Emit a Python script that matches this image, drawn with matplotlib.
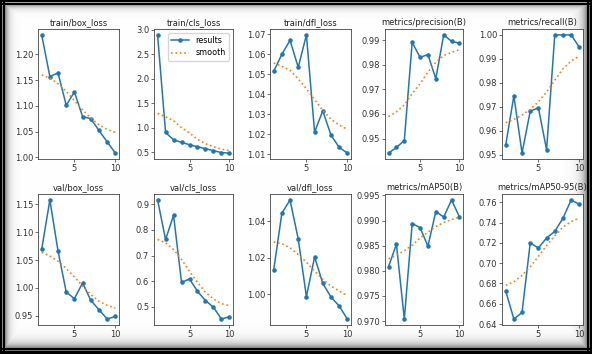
import numpy as np
import matplotlib
matplotlib.use("Agg")
import matplotlib.pyplot as plt

epochs = [1, 2, 3, 4, 5, 6, 7, 8, 9, 10]
xticks = [5, 10]
val_dfl_yticks = [1.00, 1.02, 1.04]

titles = ["train/box_loss", "train/cls_loss", "train/dfl_loss", "metrics/precision(B)", "metrics/recall(B)",
          "val/box_loss", "val/cls_loss", "val/dfl_loss", "metrics/mAP50(B)", "metrics/mAP50-95(B)"]

train_box = [1.238, 1.157, 1.164, 1.101, 1.127, 1.079, 1.075, 1.052, 1.030, 1.008]
train_box_s = [1.160, 1.154, 1.143, 1.128, 1.110, 1.092, 1.076, 1.063, 1.054, 1.048]
train_cls = [2.89, 0.90, 0.75, 0.70, 0.65, 0.61, 0.57, 0.53, 0.49, 0.48]
train_cls_s = [1.29, 1.22, 1.14, 1.00, 0.89, 0.76, 0.67, 0.61, 0.56, 0.53]
train_dfl = [1.0515, 1.0600, 1.0670, 1.0535, 1.0697, 1.0212, 1.0318, 1.0197, 1.0136, 1.0107]
train_dfl_s = [1.0557, 1.0540, 1.0520, 1.0477, 1.0428, 1.0374, 1.0320, 1.0276, 1.0247, 1.0225]
precision = [0.9441, 0.9464, 0.9492, 0.9891, 0.9830, 0.9841, 0.9743, 0.9921, 0.9895, 0.9887]
precision_s = [0.9589, 0.9609, 0.9636, 0.9683, 0.9723, 0.9770, 0.9810, 0.9837, 0.9850, 0.9861]
recall = [0.9540, 0.9746, 0.9507, 0.9682, 0.9696, 0.9521, 1.0000, 1.0000, 1.0000, 0.9949]
recall_s = [0.9634, 0.9648, 0.9666, 0.9689, 0.9721, 0.9762, 0.9811, 0.9859, 0.9891, 0.9912]
val_box = [1.069, 1.158, 1.066, 0.9926, 0.9806, 1.0089, 0.9776, 0.9608, 0.9440, 0.9488]
val_box_s = [1.064, 1.057, 1.048, 1.0347, 1.0197, 1.003, 0.988, 0.976, 0.9686, 0.9638]
val_cls = [0.917, 0.763, 0.857, 0.596, 0.609, 0.561, 0.525, 0.499, 0.453, 0.462]
val_cls_s = [0.763, 0.750, 0.724, 0.685, 0.639, 0.596, 0.557, 0.531, 0.513, 0.505]
val_dfl = [1.0133, 1.0445, 1.0518, 1.0304, 0.9987, 1.0205, 1.0060, 0.9985, 0.9936, 0.9864]
val_dfl_s = [1.0287, 1.0278, 1.0255, 1.0218, 1.0176, 1.0127, 1.0082, 1.0045, 1.0018, 0.9991]
map50 = [0.9808, 0.9853, 0.9704, 0.9894, 0.9886, 0.9849, 0.9918, 0.9907, 0.9941, 0.9907]
map50_s = [0.9824, 0.9831, 0.9840, 0.9851, 0.9865, 0.9877, 0.9888, 0.9896, 0.9902, 0.9907]
map5095 = [0.6726, 0.6449, 0.6514, 0.7199, 0.7150, 0.7248, 0.7313, 0.7443, 0.7623, 0.7580]
map5095_s = [0.6781, 0.6817, 0.6879, 0.6964, 0.7068, 0.7173, 0.7270, 0.7355, 0.7411, 0.7443]

results = [train_box, train_cls, train_dfl, precision, recall, val_box, val_cls, val_dfl, map50, map5095]
smooths = [train_box_s, train_cls_s, train_dfl_s, precision_s, recall_s,
           val_box_s, val_cls_s, val_dfl_s, map50_s, map5095_s]

W, H = 592, 354
fig = plt.figure(figsize=(W / 100, H / 100), dpi=100)

# decorative frame with shadow
img = np.ones((H, W, 3))
yy, xx = np.mgrid[0:H, 0:W]
d_top = yy - 5
d_left = xx - 5
d_bot = (H - 6) - yy
d_right = (W - 5) - xx
shade = np.zeros((H, W))
shade = np.maximum(shade, 0.35 * np.exp(-np.clip(d_top, 0, None) / 3.0))
shade = np.maximum(shade, 0.45 * np.exp(-np.clip(d_left, 0, None) / 3.5))
shade = np.maximum(shade, 0.55 * np.exp(-np.clip(d_bot, 0, None) / 5.0))
shade = np.maximum(shade, 0.55 * np.exp(-np.clip(d_right, 0, None) / 5.0))
img = img * (1 - shade[..., None])
border = (yy < 2) | (yy >= H - 3) | (xx < 2) | (xx >= W - 2)
inner = ((yy >= 3) & (yy < 5)) | ((yy >= H - 6) & (yy < H - 4)) | ((xx >= 3) & (xx < 5)) | ((xx >= W - 5) & (xx < W - 3))
img[inner] = 0.0
img[border] = 0.0
bg = fig.add_axes([0, 0, 1, 1], zorder=-10)
bg.imshow(img, aspect='auto', interpolation='nearest')
bg.axis('off')

lefts = [38, 154, 270, 385, 502]
widths = [81, 79, 81, 78, 81]
rows = [(29, 159), (194, 325)]

for i in range(10):
    r, c = divmod(i, 5)
    top, bot = rows[r]
    ax = fig.add_axes([lefts[c] / W, 1 - bot / H, widths[c] / W, (bot - top) / H], zorder=1)
    ax.plot(epochs, results[i], marker='.', color='#1f77b4', linewidth=1.1, markersize=4.5, label='results')
    ax.plot(epochs, smooths[i], ':', color='#ff7f0e', linewidth=1.2, label='smooth')
    ax.set_title(titles[i], fontsize=6, pad=3, color='#222222')
    ax.set_xticks(xticks)
    if titles[i] == "val/dfl_loss":
        ax.set_yticks(val_dfl_yticks)
    ax.tick_params(labelsize=6, length=2, width=0.5, pad=1.5, colors='#333333')
    for s in ax.spines.values():
        s.set_linewidth(0.6)
        s.set_color('#444444')
    if i == 1:
        ax.legend(fontsize=5.8, loc='upper right', handlelength=2.2, borderpad=0.4, labelspacing=0.4)

fig.savefig("out.png", dpi=100)
